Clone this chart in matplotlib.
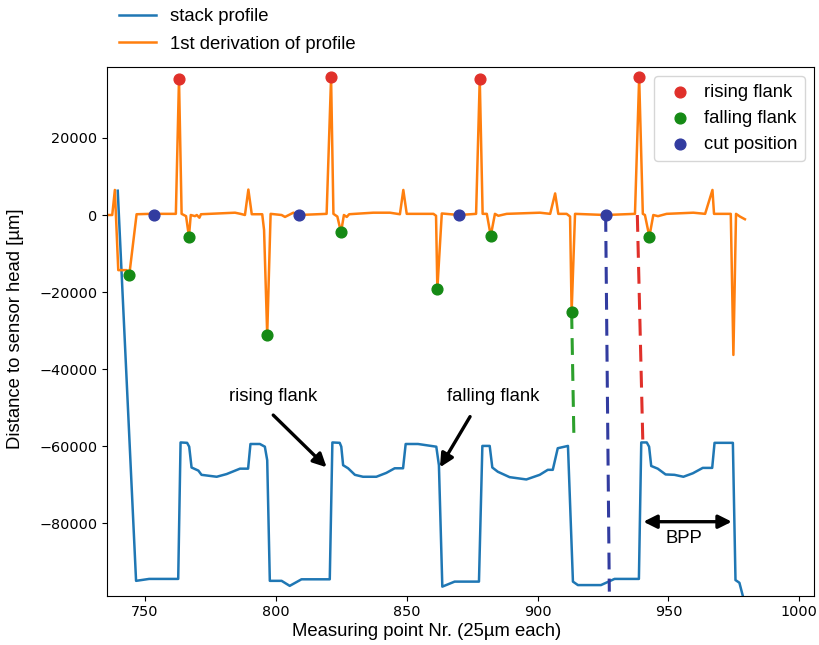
import numpy as np
import matplotlib.pyplot as plt

plt.rcParams['font.family'] = ['Liberation Sans', 'DejaVu Sans']

# stack profile (vertices)
prof_x = [739.6, 746.6, 751.6, 762.7, 763.6, 766.1, 766.9, 767.8, 770.4, 771.6,
          777.4, 781.2, 786.3, 789.4, 790.3, 793.9, 795.8, 796.7, 797.7, 802.2,
          805.3, 809.8, 820.6, 821.6, 824.4, 825.0, 825.7, 827.6, 830.2, 833.3,
          838.4, 842.2, 845.4, 848.6, 849.6, 854.3, 861.3, 862.3, 863.6, 868.3,
          877.6, 878.9, 881.7, 882.7, 884.8, 889.3, 895.7, 900.8, 903.9, 905.8,
          907.7, 911.6, 913.5, 915.4, 924.2, 929.4, 938.7, 939.6, 941.7, 942.6,
          943.4, 945.9, 948.9, 952.3, 955.7, 959.3, 963.1, 966.7, 967.6, 974.6,
          975.6, 977.1, 980.0]
prof_y = [6300, -94900, -94400, -94400, -59000, -59100, -60100, -65500, -66300, -67400,
          -67900, -67200, -65800, -65800, -59400, -59400, -60100, -63600, -94900, -94900,
          -96200, -94500, -94500, -59000, -59100, -60100, -64900, -65700, -67400, -67900,
          -67900, -66900, -65700, -65700, -59400, -59400, -60100, -64900, -96400, -95100,
          -95100, -59900, -59900, -65500, -66600, -68000, -68600, -67400, -66100, -66100,
          -60500, -59900, -95100, -96000, -96000, -94400, -94400, -59000, -59000, -60100,
          -65100, -65800, -67300, -67400, -67900, -67000, -65600, -65600, -59100, -59100,
          -94700, -95400, -103000]

# 1st derivation of profile
der_x = [735.4, 737.5, 738.5, 739.8, 743.0, 744.0, 746.8, 751.9, 761.8, 763.0,
         764.0, 765.7, 766.8, 767.5, 769.1, 769.8, 770.8, 771.4, 784.4, 786.5,
         788.2, 789.5, 790.8, 794.8, 795.5, 796.7, 798.0, 802.2, 803.5, 806.7,
         808.8, 819.4, 821.1, 822.0, 823.5, 824.9, 826.0, 827.1, 828.0, 830.2,
         837.2, 843.6, 847.4, 848.7, 850.0, 860.2, 861.2, 861.7, 863.4, 870.0,
         876.5, 877.9, 879.0, 880.6, 882.1, 883.7, 885.0, 888.2, 900.9, 904.8,
         906.7, 907.9, 911.1, 912.4, 913.0, 914.3, 926.0, 937.2, 938.8, 940.2,
         941.0, 942.7, 944.2, 946.0, 949.3, 959.5, 964.0, 966.8, 967.4, 973.8,
         974.8, 975.8, 977.3, 979.2]
der_y = [0, 0, 6500, -14300, -14300, -15600, 200, 300, 300, 35300,
         300, -300, -5600, 0, -300, 0, -700, 200, 600, 300,
         0, 6600, 200, 200, -3900, -31100, 300, 0, -500, 600,
         0, 300, 35700, 300, -400, -4500, 0, -500, 200, 300,
         600, 600, 200, 6500, 300, 300, -200, -19200, 400, 0,
         300, 35300, 300, 300, -5400, 300, -200, 300, 600, 300,
         5600, 300, 300, -400, -25200, 300, 0, 300, 35700, 300,
         0, -5600, 0, -300, 300, 600, 300, 6500, 300, 300,
         -36300, 300, -400, -1100]

rise_x = [763.0, 821.1, 877.9, 938.8]
rise_y = [35300, 35700, 35300, 35700]
fall_x = [744.0, 766.8, 796.7, 824.9, 861.7, 882.1, 913.0, 942.7]
fall_y = [-15600, -5600, -31100, -4500, -19200, -5400, -25200, -5600]
cut_x = [753.4, 808.8, 870.0, 926.0]
cut_y = [0, 0, 0, 0]

# dashed guide lines (start x, end x, start y, end y)
guide_x0 = [913.0, 926.0, 938.1]
guide_x1 = [913.9, 927.4, 940.2]
guide_y0 = [-25200, 0, 0]
guide_y1 = [-58800, -97700, -58800]

c_red = '#e0302a'
c_green = '#158a15'
c_blue = '#323ca0'
guide_colors = ['#2ca02c', c_blue, c_red]

fig = plt.figure(figsize=(8.2, 6.45), dpi=100)
ax = fig.add_axes([0.1305, 0.0764, 0.8622, 0.8197])

l1, = ax.plot(prof_x, prof_y, color='#1f77b4', lw=1.8, label='stack profile')
l2, = ax.plot(der_x, der_y, color='#ff7f0e', lw=1.8, label='1st derivation of profile')

for i in range(len(guide_x0)):
    ax.plot([guide_x0[i], guide_x1[i]], [guide_y0[i], guide_y1[i]],
            color=guide_colors[i], lw=2.2, dashes=(5.5, 3), zorder=3)

s1 = ax.scatter(rise_x, rise_y, s=60, color=c_red, zorder=4, label='rising flank')
s2 = ax.scatter(fall_x, fall_y, s=60, color=c_green, zorder=4, label='falling flank')
s3 = ax.scatter(cut_x, cut_y, s=60, color=c_blue, zorder=4, label='cut position')

fs = 13.3
arrow = dict(arrowstyle='-|>', lw=2.4, color='black', mutation_scale=20,
             shrinkA=0, shrinkB=0)
ax.annotate('', xy=(819.4, -65450), xytext=(799.0, -51900), arrowprops=arrow)
ax.text(799.0, -47130, 'rising flank', ha='center', va='center', fontsize=fs)
ax.annotate('', xy=(862.7, -65450), xytext=(874.2, -52300), arrowprops=arrow)
ax.text(883.2, -47130, 'falling flank', ha='center', va='center', fontsize=fs)
arrow2 = dict(arrowstyle='<|-|>', lw=2.4, color='black', mutation_scale=20,
              shrinkA=0, shrinkB=0)
ax.annotate('', xy=(974.2, -79560), xytext=(940.4, -79560), arrowprops=arrow2)
ax.text(956.0, -83870, 'BPP', ha='center', va='center', fontsize=fs)

ax.set_xlim(735.5, 1005.6)
ax.set_ylim(-98760, 38390)
ax.set_xticks([750, 800, 850, 900, 950, 1000])
ax.set_yticks([-80000, -60000, -40000, -20000, 0, 20000])
ax.tick_params(labelsize=10.4)
for lbl in ax.get_xticklabels() + ax.get_yticklabels():
    lbl.set_fontfamily('DejaVu Sans')

ax.set_xlabel('Measuring point Nr. (25µm each)', fontsize=fs)
ax.set_ylabel('Distance to sensor head [µm]', fontsize=fs)
ax.xaxis.set_label_coords(0.4526, -0.068)
ax.yaxis.set_label_coords(-0.129, 0.506)
ax.xaxis.label.set_va('center')
ax.yaxis.label.set_va('center')

leg1 = ax.legend(handles=[s1, s2, s3], loc='upper right', fontsize=fs,
                 handletextpad=0.3, borderpad=0.4)
ax.add_artist(leg1)
ax.legend(handles=[l1, l2], loc='lower left', bbox_to_anchor=(-0.007, 0.996),
          frameon=False, fontsize=fs, labelspacing=0.55)

fig.savefig('out.png', dpi=100)
